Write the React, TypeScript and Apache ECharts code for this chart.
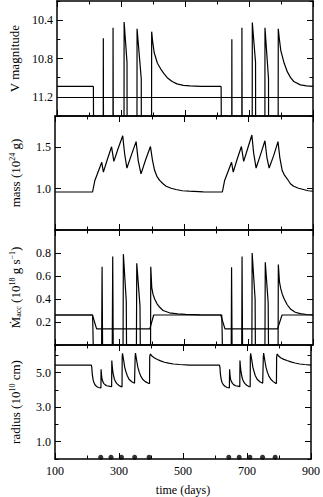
import React, { useEffect, useRef } from "react";
import * as echarts from "echarts";

// ---------------- data ----------------
// V magnitude vs time (days); values beyond 11.4 are off the bottom of the panel
const vMagnitude: [number, number][] = [
  [100, 11.09], [213, 11.09], [214, 11.1], [215, 12.0],
  [244.5, 12.0], [245, 10.59], [245.8, 12.0],
  [275, 12.0], [275.4, 10.48], [276.5, 12.0],
  [309.5, 12.0], [310, 10.42], [319, 10.84], [319.5, 12.0],
  [350, 12.0], [350.4, 10.49], [363.5, 11.01], [364, 12.0],
  [395.5, 12.0], [396, 10.52], [399, 10.62], [404, 10.74], [414, 10.85], [424.5, 10.91],
  [435, 10.96], [444.7, 11.0], [460, 11.04], [475, 11.065], [495, 11.08], [516, 11.085], [550, 11.09],
  [612, 11.09], [613, 11.1], [614.5, 12.0],
  [646, 12.0], [646.5, 10.6], [647.3, 12.0],
  [677.5, 12.0], [678, 10.48], [679, 12.0],
  [710, 12.0], [710.4, 10.425], [720.5, 10.84], [721, 12.0],
  [749.6, 12.0], [750, 10.48], [761, 11.01], [761.5, 12.0],
  [791, 12.0], [791.5, 10.49], [795, 10.6], [799.6, 10.72], [810, 10.85], [820, 10.94],
  [830, 11.0], [840, 11.04], [860.5, 11.075], [880, 11.085], [900, 11.09],
];
const referenceMagnitude = 11.2;

// disc mass (10^24 g)
const discMass: [number, number][] = [
  [100, 0.96], [216.5, 0.96], [223.6, 1.1], [245, 1.32], [250, 1.2], [262, 1.35],
  [275.4, 1.507], [282.5, 1.33], [296, 1.49], [310, 1.64], [316, 1.42], [323, 1.25],
  [337, 1.41], [351.5, 1.57], [358, 1.34], [366.7, 1.18], [381, 1.35], [396, 1.51],
  [402, 1.35], [409, 1.22], [416, 1.15], [424.5, 1.1], [435, 1.06], [444.7, 1.03],
  [460, 1.005], [475, 0.99], [495, 0.975], [516, 0.97], [560, 0.962], [619, 0.96],
  [626, 1.1], [647.5, 1.32], [652.6, 1.2], [665, 1.36], [678, 1.51], [685, 1.33],
  [697, 1.48], [710.4, 1.65], [716, 1.43], [723.6, 1.25], [737, 1.41], [751, 1.58],
  [757, 1.38], [764, 1.25], [778, 1.4], [791.5, 1.57], [797, 1.38], [804.6, 1.22],
  [812, 1.16], [820, 1.12], [830, 1.06], [840, 1.03], [855, 1.005], [870.5, 0.99],
  [885, 0.975], [900, 0.97],
];

// accretion rate (10^18 g/s)
const accretionRate: [number, number][] = [
  [100, 0.261], [216.5, 0.261], [217.5, 0.15], [218.5, 0],
  [244.5, 0], [246, 0.68], [247.5, 0],
  [277.5, 0], [279, 0.77], [280.5, 0],
  [311, 0], [312, 0.79], [321, 0.38], [321.8, 0],
  [352.5, 0], [353.5, 0.71], [363.5, 0.34], [364.5, 0],
  [396.3, 0], [397, 0.68], [400, 0.5], [404, 0.44], [409, 0.4], [416, 0.36], [424, 0.33],
  [435, 0.3], [454.6, 0.28], [480, 0.27], [505, 0.266], [550, 0.262], [617, 0.261],
  [618, 0.15], [619, 0],
  [646.5, 0], [647.5, 0.675], [649, 0],
  [679, 0], [680, 0.77], [681.5, 0],
  [710.5, 0], [711.3, 0.8], [720.5, 0.4], [721.3, 0],
  [751, 0], [752, 0.72], [761, 0.37], [762, 0],
  [791.8, 0], [792.5, 0.7], [796, 0.55], [800, 0.49], [805, 0.44], [810.8, 0.4], [820, 0.35],
  [831, 0.31], [845, 0.285], [860.4, 0.273], [880, 0.265], [900, 0.262],
];

// mass-transfer rate from the secondary (10^18 g/s)
const transferRate: [number, number][] = [
  [100, 0.261], [216, 0.261], [229, 0.14], [394, 0.14], [406, 0.261],
  [614, 0.261], [627, 0.14], [790, 0.14], [804, 0.261], [900, 0.261],
];

// disc outer radius (10^10 cm)
const discRadius: [number, number][] = [
  [100, 5.43], [213.5, 5.43], [215, 5.3], [216.6, 4.9], [219, 4.6], [221.7, 4.43], [225, 4.3],
  [229.8, 4.2], [236, 4.14], [243.5, 4.11],
  [244, 5.19], [245.5, 4.85], [247, 4.62], [249.5, 4.48], [252, 4.38], [257, 4.29], [262, 4.24],
  [272.4, 4.2], [277, 4.19],
  [277.5, 5.7], [279, 5.35], [280.5, 5.09], [283, 4.82], [285.6, 4.62], [289, 4.48], [292.7, 4.38],
  [299, 4.27], [305, 4.2], [309.5, 4.18],
  [310, 5.9], [311, 6.12], [312.5, 6.1], [315, 5.66], [318, 5.3], [321, 5.09], [326, 4.82],
  [331.3, 4.62], [340, 4.47], [348.5, 4.39], [350, 4.38],
  [350.5, 5.9], [351.5, 6.13], [353, 6.1], [355.6, 5.66], [359, 5.3], [363.7, 5.0], [368, 4.8],
  [373.9, 4.62], [382, 4.48], [392.1, 4.38], [395.5, 4.37],
  [396, 5.9], [397.5, 6.08], [402, 5.98], [410, 5.86], [420, 5.76], [430, 5.68], [442, 5.6],
  [455, 5.55], [470, 5.5], [490, 5.47], [520, 5.44], [560, 5.43], [614, 5.43],
  [615.5, 5.3], [617, 4.9], [619.5, 4.6], [622, 4.43], [626, 4.3], [632, 4.2], [638, 4.14], [645, 4.11],
  [645.6, 5.19], [647, 4.85], [648.6, 4.62], [651.5, 4.48], [654.7, 4.38], [659, 4.29], [664.8, 4.24],
  [675, 4.2], [677.5, 4.19],
  [678, 5.7], [679.5, 5.35], [681, 5.09], [683.5, 4.82], [686, 4.62], [689.5, 4.48], [693, 4.38],
  [699, 4.27], [706, 4.2], [710, 4.18],
  [710.4, 5.9], [711.4, 6.12], [713, 6.1], [715.5, 5.66], [718.5, 5.3], [721.6, 5.09], [726, 4.82],
  [731.7, 4.62], [740, 4.47], [749, 4.39], [750.5, 4.38],
  [751, 5.9], [752, 6.13], [753.5, 6.1], [756, 5.66], [759.5, 5.3], [764, 5.0], [768.5, 4.8],
  [774.4, 4.62], [782, 4.48], [789.6, 4.38], [792, 4.37],
  [792.6, 5.9], [794, 6.08], [798, 5.98], [805, 5.86], [815, 5.77], [825, 5.7], [837, 5.62],
  [850, 5.56], [865, 5.5], [880, 5.47], [900, 5.44],
];

// outburst markers (days) drawn near the bottom of the radius panel
const outburstTimes = [243, 275, 307.6, 349, 394, 643, 675.6, 709, 748.6, 788];
const outburstMarkerLevel = 0.1;

// axis definitions
const timeRange = [100, 900];
const timeLabels = [100, 300, 500, 700, 900];

const panelRanges: [number, number][] = [[10.2, 11.4], [0.5, 1.88], [0, 1.0], [0, 6.6]];
const panelMajorTicks: number[][] = [[10.4, 10.8, 11.2], [1.0, 1.5], [0.2, 0.4, 0.6, 0.8], [1, 3, 5]];
const panelMinorInterval = [0.2, 0.5, 0.2, 1];
const panelNames = [
  "V magnitude",
  "mass (10{sup|24} g)",
  "{big|Ṁ}{sub|acc} (10{sup|18} g s{sup|−1})",
  "radius (10{sup|10} cm)",
];

const FONT = "Liberation Serif";
const panelTops = [1, 116, 230, 345];
const panelHeights = [115, 114, 115, 115];

export default function App() {
  const ref = useRef<HTMLDivElement>(null);
  useEffect(() => {
    if (!ref.current) return;
    const chart = echarts.init(ref.current, undefined, { renderer: "svg" });

    const grids = panelTops.map((top, i) => ({ left: 50, right: 10, top, height: panelHeights[i] }));

    const axisLine = { show: true, onZero: false, lineStyle: { color: "#000", width: 1.5 } };

    const xAxes: any[] = [];
    for (let i = 0; i < 4; i++) {
      for (const pos of ["bottom", "top"]) {
        const showLabels = i === 3 && pos === "bottom";
        xAxes.push({
          type: "value",
          gridIndex: i,
          position: pos,
          min: timeRange[0],
          max: timeRange[1],
          interval: 200,
          axisLine,
          axisTick: { show: true, inside: true, length: 6, lineStyle: { color: "#000", width: 1 } },
          minorTick: { show: true, splitNumber: 2, length: 3.5, lineStyle: { color: "#000", width: 1 } },
          splitLine: { show: false },
          minorSplitLine: { show: false },
          axisLabel: {
            show: showLabels,
            color: "#000",
            fontFamily: FONT,
            fontSize: 12,
            margin: 6,
            formatter: (v: number) => (timeLabels.includes(Math.round(v)) ? String(Math.round(v)) : ""),
          },
          name: showLabels ? "time (days)" : "",
          nameLocation: "middle",
          nameGap: 25,
          nameTextStyle: { color: "#000", fontFamily: FONT, fontSize: 12 },
        });
      }
    }

    const yAxes: any[] = [];
    const yIndexOfPanel: number[] = [];
    for (let i = 0; i < 4; i++) {
      const [mn, mx] = panelRanges[i];
      const inverse = i === 0;
      for (const pos of ["left", "right"]) {
        if (pos === "left") yIndexOfPanel.push(yAxes.length);
        // major ticks (with labels on the left)
        yAxes.push({
          type: "value",
          gridIndex: i,
          position: pos,
          inverse,
          min: mn,
          max: mx,
          axisLine,
          axisTick: {
            show: true,
            inside: true,
            length: 6,
            customValues: panelMajorTicks[i],
            lineStyle: { color: "#000", width: 1 },
          },
          splitLine: { show: false },
          axisLabel: {
            show: pos === "left",
            customValues: panelMajorTicks[i],
            color: "#000",
            fontFamily: FONT,
            fontSize: 12,
            margin: 4,
            formatter: (v: number) => v.toFixed(1),
          },
          name: pos === "left" ? panelNames[i] : "",
          nameLocation: "middle",
          nameRotate: 90,
          nameGap: 33,
          nameTextStyle: {
            color: "#000",
            fontFamily: FONT,
            fontSize: 13,
            rich: {
              sup: { fontFamily: FONT, fontSize: 8, verticalAlign: "top", color: "#000", lineHeight: 14 },
              sub: { fontFamily: FONT, fontSize: 8, verticalAlign: "bottom", color: "#000", lineHeight: 14 },
              big: { fontFamily: FONT, fontSize: 13, color: "#000", lineHeight: 14 },
            },
          },
        });
        // minor ticks
        yAxes.push({
          type: "value",
          gridIndex: i,
          position: pos,
          inverse,
          min: mn,
          max: mx,
          interval: panelMinorInterval[i],
          axisLine: { show: false, onZero: false },
          axisTick: { show: true, inside: true, length: 3.5, lineStyle: { color: "#000", width: 1 } },
          splitLine: { show: false },
          axisLabel: { show: false },
        });
      }
    }

    const lineSeries = (name: string, data: [number, number][], panel: number, extra: any = {}) => ({
      name,
      type: "line",
      xAxisIndex: panel * 2,
      yAxisIndex: yIndexOfPanel[panel],
      data,
      showSymbol: false,
      symbol: "none",
      clip: true,
      lineStyle: { color: "#000", width: 1.2 },
      ...extra,
    });

    chart.setOption({
      animation: false,
      backgroundColor: "#fff",
      grid: grids,
      xAxis: xAxes,
      yAxis: yAxes,
      series: [
        lineSeries("V", vMagnitude, 0, {
          markLine: {
            silent: true,
            symbol: "none",
            label: { show: false },
            lineStyle: { color: "#000", type: "solid", width: 1 },
            data: [{ yAxis: referenceMagnitude }],
          },
        }),
        lineSeries("mass", discMass, 1),
        lineSeries("transfer", transferRate, 2),
        lineSeries("accretion", accretionRate, 2),
        lineSeries("radius", discRadius, 3),
        {
          name: "outbursts",
          type: "scatter",
          xAxisIndex: 6,
          yAxisIndex: yIndexOfPanel[3],
          data: outburstTimes.map((t) => [t, outburstMarkerLevel]),
          symbol: "circle",
          symbolSize: 5,
          itemStyle: { color: "#000" },
        },
      ],
    });
    return () => chart.dispose();
  }, []);
  return (
    <div
      ref={ref}
      style={{ position: "fixed", left: 0, top: 0, width: 323, height: 497, background: "#fff" }}
    />
  );
}
